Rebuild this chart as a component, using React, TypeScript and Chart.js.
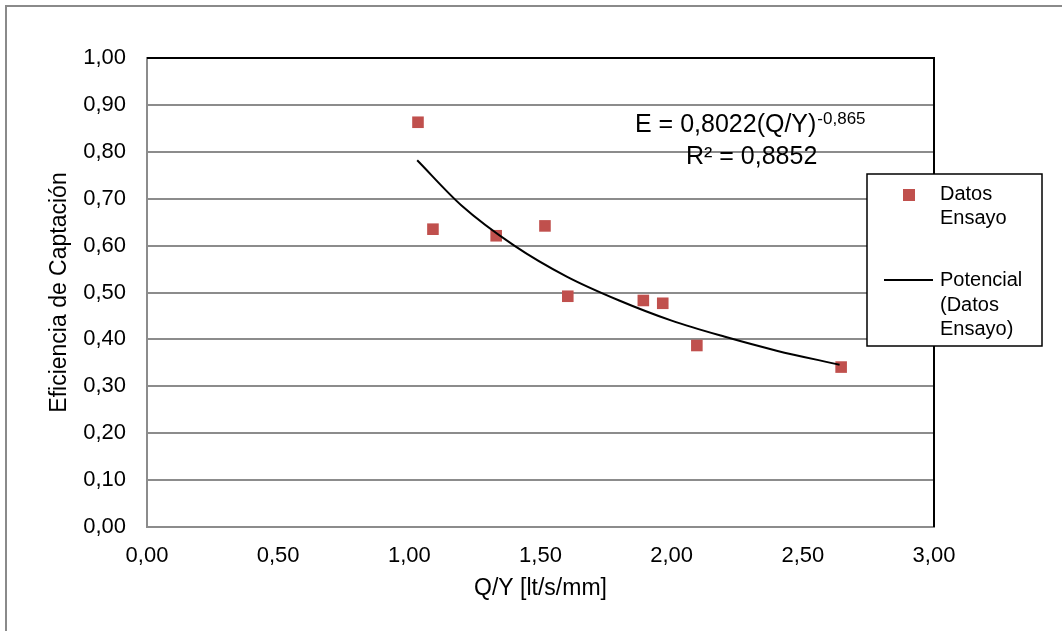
import React, { useEffect, useRef } from "react";
import { Chart, registerables } from "chart.js";

Chart.register(...registerables);

const qyValues = [1.033, 1.09, 1.331, 1.517, 1.604, 1.892, 1.966, 2.096, 2.646];
const effValues = [0.863, 0.635, 0.621, 0.642, 0.492, 0.483, 0.477, 0.387, 0.341];
const trendX = [1.03, 1.2, 1.4, 1.6, 1.8, 2.0, 2.2, 2.4, 2.64];
const trendY = [0.782, 0.685, 0.6, 0.534, 0.483, 0.44, 0.406, 0.376, 0.346];
const seriesNames = ["Datos Ensayo", "Potencial (Datos Ensayo)"];
const equationMain = "E = 0,8022(Q/Y)";
const equationExp = "-0,865";
const r2Text = "R² = 0,8852";
const xTitle = "Q/Y [lt/s/mm]";
const yTitle = "Eficiencia de Captación";

const FONT = "'Liberation Sans', Arial, sans-serif";
const RED = "rgb(192,80,77)";
const GRID = "#8c8c8c";

const fmt = (v: number) => Number(v).toFixed(2).replace(".", ",");

const decorPlugin = {
  id: "decor",
  beforeDraw(chart: any) {
    const ctx = chart.ctx;
    ctx.save();
    ctx.fillStyle = "#fff";
    ctx.fillRect(0, 0, chart.width, chart.height);
    ctx.strokeStyle = "#8a8a8a";
    ctx.lineWidth = 2;
    ctx.strokeRect(6, 6, chart.width + 20, chart.height + 20);
    ctx.restore();
  },
  afterDraw(chart: any) {
    const ctx = chart.ctx;
    const a = chart.chartArea;
    ctx.save();
    // black top and right plot border
    ctx.strokeStyle = "#000";
    ctx.lineWidth = 2;
    ctx.beginPath();
    ctx.moveTo(a.left, a.top);
    ctx.lineTo(a.right, a.top);
    ctx.lineTo(a.right, a.bottom);
    ctx.stroke();

    // equation
    ctx.fillStyle = "#000";
    ctx.textBaseline = "alphabetic";
    ctx.textAlign = "left";
    ctx.font = `25px ${FONT}`;
    ctx.fillText(equationMain, 635, 132);
    const w = ctx.measureText(equationMain).width;
    ctx.font = `17px ${FONT}`;
    ctx.fillText(equationExp, 635 + w + 1, 124);
    ctx.font = `25px ${FONT}`;
    ctx.fillText(r2Text, 686, 164);

    // legend
    const lx = 867, ly = 174, lw = 175, lh = 172;
    ctx.fillStyle = "#fff";
    ctx.fillRect(lx, ly, lw, lh);
    ctx.strokeStyle = "#000";
    ctx.lineWidth = 1.5;
    ctx.strokeRect(lx, ly, lw, lh);
    ctx.fillStyle = RED;
    ctx.fillRect(909 - 6, 195 - 6, 12, 12);
    ctx.strokeStyle = "#000";
    ctx.lineWidth = 2;
    ctx.beginPath();
    ctx.moveTo(884, 280);
    ctx.lineTo(933, 280);
    ctx.stroke();
    ctx.fillStyle = "#000";
    ctx.font = `20px ${FONT}`;
    ctx.textBaseline = "middle";
    const l1 = seriesNames[0].split(" ");
    ctx.fillText(l1[0], 940, 194);
    ctx.fillText(l1[1], 940, 218);
    const p = seriesNames[1].split(" ");
    ctx.fillText(p[0], 940, 280);
    ctx.fillText(p[1], 940, 305);
    ctx.fillText(p[2], 940, 329);
    ctx.restore();
  },
};

export default function App() {
  const ref = useRef<HTMLCanvasElement>(null);
  useEffect(() => {
    if (!ref.current) return;
    const chart = new Chart(ref.current, {
      type: "scatter",
      data: {
        datasets: [
          {
            label: seriesNames[1],
            type: "line",
            data: trendX.map((x, i) => ({ x, y: trendY[i] })),
            borderColor: "#000",
            borderWidth: 2,
            pointRadius: 0,
            fill: false,
            cubicInterpolationMode: "monotone",
            order: 1,
          } as any,
          {
            label: seriesNames[0],
            data: qyValues.map((x, i) => ({ x, y: effValues[i] })),
            pointStyle: "rect",
            pointRadius: 8.2,
            backgroundColor: RED,
            borderColor: RED,
            borderWidth: 0,
            order: 2,
          },
        ],
      },
      options: {
        animation: false,
        responsive: false,
        layout: { padding: { left: 0, top: 58, right: 128, bottom: 0 } },
        plugins: { legend: { display: false }, tooltip: { enabled: false } },
        scales: {
          x: {
            type: "linear",
            min: 0,
            max: 3,
            afterFit: (s: any) => { s.height = 104; },
            ticks: {
              stepSize: 0.5,
              padding: 16,
              color: "#000",
              font: { family: FONT, size: 22 },
              callback: (v: any) => fmt(v),
            },
            grid: { display: false, drawTicks: false },
            border: { display: true, color: GRID, width: 2 },
            title: {
              display: true,
              text: xTitle,
              color: "#000",
              font: { family: FONT, size: 23 },
              padding: { top: 0, bottom: 29 },
            },
          },
          y: {
            min: 0,
            max: 1,
            afterFit: (s: any) => { s.width = 147; },
            ticks: {
              stepSize: 0.1,
              padding: 21,
              color: "#000",
              font: { family: FONT, size: 22 },
              callback: (v: any) => fmt(v),
            },
            grid: { color: GRID, lineWidth: 2, drawTicks: false },
            border: { display: true, color: GRID, width: 2 },
            title: {
              display: true,
              text: yTitle,
              color: "#000",
              font: { family: FONT, size: 23 },
              padding: { top: 46, bottom: 0 },
            },
          },
        },
      },
      plugins: [decorPlugin],
    });
    return () => chart.destroy();
  }, []);
  return (
    <div style={{ position: "absolute", left: 0, top: 0, width: 1062, height: 631 }}>
      <canvas ref={ref} width={1062} height={631} style={{ width: 1062, height: 631, display: "block" }} />
    </div>
  );
}
